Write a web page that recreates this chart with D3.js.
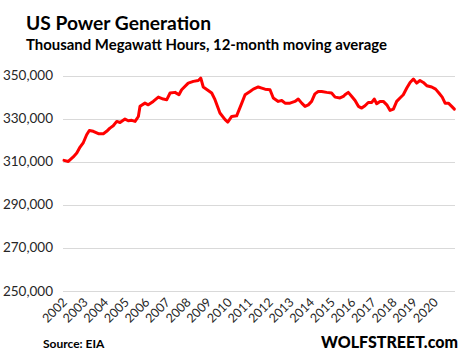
<!DOCTYPE html>
<html><head><meta charset="utf-8">
<script src="https://cdn.jsdelivr.net/npm/d3@7"></script>
<style>body{margin:0;background:#fff}svg{display:block}</style>
</head><body>
<svg id="c" width="459" height="359"></svg>
<script>
const title = "US Power Generation";
const subtitle = "Thousand Megawatt Hours, 12-month moving average";
const source = "Source: EIA";
const brand = "WOLFSTREET.com";
const yTicks = [250000, 270000, 290000, 310000, 330000, 350000];
const yearLabels = ["2002","2003","2004","2005","2006","2007","2008","2009","2010","2011","2012","2013","2014","2015","2016","2017","2018","2019","2020"];
// decimal years and values (thousand MWh, 12-mo moving avg)
const dates = [2002.00,2002.21,2002.45,2002.62,2002.78,2002.94,2003.10,2003.23,2003.42,2003.67,2003.91,2004.07,2004.23,2004.39,2004.56,2004.72,2004.96,2005.12,2005.29,2005.45,2005.61,2005.69,2005.93,2006.09,2006.33,2006.58,2006.82,2006.99,2007.15,2007.39,2007.58,2007.71,2008.03,2008.28,2008.52,2008.64,2008.76,2009.00,2009.17,2009.33,2009.57,2009.82,2009.95,2010.14,2010.38,2010.63,2010.79,2011.03,2011.19,2011.43,2011.60,2011.76,2012.00,2012.16,2012.40,2012.57,2012.73,2012.97,2013.21,2013.37,2013.54,2013.70,2013.86,2014.02,2014.18,2014.34,2014.51,2014.75,2014.99,2015.16,2015.40,2015.56,2015.64,2015.80,2015.97,2016.13,2016.29,2016.45,2016.61,2016.77,2016.94,2017.06,2017.18,2017.34,2017.50,2017.67,2017.83,2017.99,2018.15,2018.31,2018.47,2018.64,2018.80,2018.96,2019.12,2019.28,2019.44,2019.61,2019.85,2020.04,2020.20,2020.36,2020.50,2020.66,2020.82,2020.95];
const values = [310700,310200,312300,314100,316900,319000,322600,324600,324200,323100,323100,324200,325700,326800,328800,328300,329900,329100,329300,328800,331100,335800,337300,336500,338100,340100,339200,338900,342000,342300,341200,343500,346600,347400,347800,348900,344800,343200,342000,338900,332700,329600,328500,331100,331400,337300,341200,342700,343800,344800,344300,343800,343500,339700,338100,338500,337300,337300,338100,339200,337300,335800,336500,338100,341600,342700,342700,342300,342000,340100,339700,340400,341200,342300,340400,338500,335800,335000,336100,337600,337600,339200,337000,338100,338100,336500,333900,334500,338100,339700,341200,344300,346900,348500,346600,347800,346900,345400,344800,343800,342000,340100,337300,337300,335800,334500];

const svg = d3.select("#c");
const x = d3.scaleLinear().domain([2002, 2021]).range([64, 455.4]);
const y = d3.scaleLinear().domain([250000, 350000]).range([291, 75.8]);
const font = "Lato, 'Open Sans', sans-serif";

// gridlines
svg.append("g").selectAll("line").data(yTicks).join("line")
  .attr("x1", 63).attr("x2", 455)
  .attr("y1", d => Math.round(y(d)) + 0.5).attr("y2", d => Math.round(y(d)) + 0.5)
  .attr("stroke", "#d9d9d9").attr("stroke-width", 1);

// y labels
svg.append("g").selectAll("text").data(yTicks).join("text")
  .attr("x", 53).attr("y", d => y(d) + 4.5)
  .attr("text-anchor", "end")
  .attr("font-family", font).attr("font-size", 13.5)
  .attr("fill", "#262626")
  .text(d => d3.format(",")(d));

// x labels rotated
svg.append("g").selectAll("text").data(yearLabels).join("text")
  .attr("text-anchor", "end")
  .attr("transform", d => `translate(${x(+d) + 4},${303}) rotate(-45)`)
  .attr("font-family", font).attr("font-size", 12.5)
  .attr("fill", "#262626")
  .text(d => d);

// line
const pts = dates.map((d, i) => [d, values[i]]);
svg.append("path").datum(pts)
  .attr("fill", "none").attr("stroke", "#ff0000").attr("stroke-width", 3)
  .attr("stroke-linejoin", "round").attr("stroke-linecap", "round")
  .attr("d", d3.line().x(d => x(d[0])).y(d => y(d[1])));

// titles
svg.append("text").attr("x", 26).attr("y", 30)
  .attr("font-family", font).attr("font-weight", "bold")
  .attr("font-size", 19).attr("textLength", 185).attr("lengthAdjust", "spacingAndGlyphs")
  .attr("fill", "#000").text(title);
svg.append("text").attr("x", 26).attr("y", 50)
  .attr("font-family", font).attr("font-weight", "bold")
  .attr("font-size", 14.3).attr("textLength", 361).attr("lengthAdjust", "spacingAndGlyphs")
  .attr("fill", "#000").text(subtitle);
svg.append("text").attr("x", 43).attr("y", 348)
  .attr("font-family", font).attr("font-weight", "bold")
  .attr("font-size", 12).attr("fill", "#000").text(source);
svg.append("text").attr("x", 321).attr("y", 348)
  .attr("font-family", font).attr("font-weight", "900")
  .attr("font-size", 16).attr("fill", "#000").text(brand);
</script>
</body></html>
